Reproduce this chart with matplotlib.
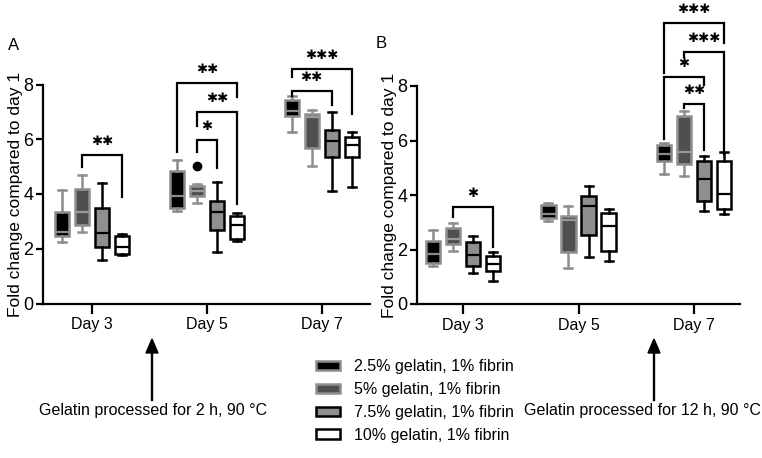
import matplotlib.pyplot as plt
from matplotlib.patches import Patch

plt.rcParams['font.family'] = ['Liberation Sans', 'DejaVu Sans']

days = ['Day 3', 'Day 5', 'Day 7']
groups = ['2.5% gelatin, 1% fibrin', '5% gelatin, 1% fibrin',
          '7.5% gelatin, 1% fibrin', '10% gelatin, 1% fibrin']

# box summaries per day: [min, q1, median, q3, max]
# panel A - gelatin processed 2 h
a_25 = [[2.25, 2.45, 2.6, 3.35, 4.15], [3.39, 3.49, 3.92, 4.83, 5.24], [6.25, 6.84, 7.05, 7.45, 7.57]]
a_5 = [[2.62, 2.88, 3.35, 4.2, 4.7], [3.67, 3.94, 4.12, 4.31, 4.37], [5.04, 5.68, 6.8, 6.92, 7.08]]
a_75 = [[1.6, 2.05, 2.58, 3.5, 4.42], [1.87, 2.69, 3.33, 3.76, 4.45], [4.12, 5.36, 5.95, 6.34, 7.0]]
a_10 = [[1.78, 1.82, 2.08, 2.45, 2.55], [2.3, 2.36, 2.88, 3.21, 3.3], [4.25, 5.34, 5.79, 6.09, 6.25]]
a_fliers = {(1, 1): [5.04]}  # (day, group) -> outliers

# panel B - gelatin processed 12 h
b_25 = [[1.38, 1.5, 1.82, 2.3, 2.7], [3.05, 3.16, 3.3, 3.63, 3.72], [4.76, 5.24, 5.5, 5.85, 5.92]]
b_5 = [[1.95, 2.2, 2.4, 2.78, 2.97], [1.33, 1.89, 3.1, 3.24, 3.6], [4.7, 5.13, 5.58, 6.89, 7.08]]
b_75 = [[1.13, 1.38, 1.8, 2.27, 2.5], [1.71, 2.53, 3.59, 3.96, 4.32], [3.42, 3.77, 4.57, 5.24, 5.42]]
b_10 = [[0.86, 1.2, 1.45, 1.75, 1.9], [1.59, 1.95, 2.87, 3.35, 3.5], [3.32, 3.47, 4.05, 5.26, 5.56]]
b_fliers = {}

# significance brackets: (day, group i, group j, bar height, left end, right end, n stars)
a_sig = [(0, 1, 3, 5.43, 4.98, 3.88, 2),
         (1, 0, 3, 8.04, 5.52, 7.53, 2),
         (1, 1, 3, 7.0, 6.5, 3.64, 2),
         (1, 1, 2, 5.98, 5.52, 4.95, 1),
         (2, 0, 3, 8.56, 8.28, 6.92, 3),
         (2, 0, 2, 7.75, 7.59, 7.26, 2)]
b_sig = [(0, 1, 3, 3.55, 3.2, 2.1, 1),
         (2, 0, 3, 10.32, 8.47, 9.58, 3),
         (2, 1, 3, 9.24, 9.07, 5.52, 3),
         (2, 0, 2, 8.33, 6.07, 8.02, 1),
         (2, 1, 2, 7.35, 7.2, 5.64, 2)]

faces = ['black', '#4f4f4f', '#8f8f8f', 'white']
edges = ['#8a8a8a', '#8f8f8f', 'black', 'black']
meds = ['#8a8a8a', '#9a9a9a', 'black', 'black']

step = 0.174
width = 0.125


def pos(day, g):
    return day + (g - 1.5) * step


def draw_panel(ax, series, fliers, sig, xlim):
    for g, data in enumerate(series):
        stats = []
        for d, s in enumerate(data):
            stats.append(dict(whislo=s[0], q1=s[1], med=s[2], q3=s[3], whishi=s[4],
                              fliers=fliers.get((d, g), [])))
        ax.bxp(stats, positions=[pos(d, g) for d in range(3)], widths=width,
               capwidths=width * 0.55, patch_artist=True, showfliers=True,
               boxprops=dict(facecolor=faces[g], edgecolor=edges[g], linewidth=1.8),
               whiskerprops=dict(color=edges[g], linewidth=1.8),
               capprops=dict(color=edges[g], linewidth=1.8),
               medianprops=dict(color=meds[g], linewidth=1.6),
               flierprops=dict(marker='o', markerfacecolor='black', markeredgecolor='black',
                               markersize=6),
               manage_ticks=False)
    for d, i, j, top, yl, yr, n in sig:
        x1, x2 = pos(d, i), pos(d, j)
        ax.plot([x1, x1, x2, x2], [yl, top, top, yr], color='black', lw=1.6,
                clip_on=False, solid_joinstyle='miter')
        ax.text((x1 + x2) / 2, top + 0.5, '\u2731' * n, ha='center', va='center',
                fontsize=9.5, family='DejaVu Sans', clip_on=False)
    ax.set_xlim(*xlim)
    ax.set_ylim(0, 8)
    ax.set_yticks([0, 2, 4, 6, 8])
    ax.set_xticks(range(3))
    ax.set_xticklabels(days, fontsize=11.5)
    ax.tick_params(axis='y', labelsize=13, width=1.6, length=5, pad=2)
    ax.tick_params(axis='x', width=1.6, length=7, pad=3)
    ax.set_ylabel('Fold change compared to day 1', fontsize=12.5, labelpad=0)
    for side in ['top', 'right']:
        ax.spines[side].set_visible(False)
    for side in ['left', 'bottom']:
        ax.spines[side].set_linewidth(1.6)


fig = plt.figure(figsize=(7.62, 4.58), dpi=100)
W, H = 762, 458
ax_a = fig.add_axes([43 / W, (H - 303.5) / H, 327 / W, 219 / H])
ax_b = fig.add_axes([417 / W, (H - 304) / H, 323 / W, 218 / H])

draw_panel(ax_a, [a_25, a_5, a_75, a_10], a_fliers, a_sig, (-0.426, 2.42))
draw_panel(ax_b, [b_25, b_5, b_75, b_10], b_fliers, b_sig, (-0.40, 2.40))

fig.text(8 / W, 1 - 45 / H, 'A', fontsize=12, va='center', ha='left')
fig.text(376 / W, 1 - 43 / H, 'B', fontsize=12, va='center', ha='left')

# arrows pointing up at the x axes
for x in [152, 654]:
    fig.add_artist(plt.Line2D([x / W, x / W], [1 - 400 / H, 1 - 352 / H], color='black', lw=1.7))
    fig.patches.append(plt.Polygon([[(x - 6) / W, 1 - 353 / H], [(x + 6) / W, 1 - 353 / H],
                                    [x / W, 1 - 339 / H]], closed=True, color='black',
                                   transform=fig.transFigure, figure=fig))
fig.text(153 / W, 1 - 410 / H, 'Gelatin processed for 2 h, 90 °C', fontsize=11.5,
         ha='center', va='center')
fig.text(642 / W, 1 - 410 / H, 'Gelatin processed for 12 h, 90 °C', fontsize=11.5,
         ha='center', va='center')

handles = [Patch(facecolor=faces[g], edgecolor=edges[g], linewidth=1.8) for g in range(4)]
fig.legend(handles, groups, loc='upper left', bbox_to_anchor=(316 / W, 1 - 359 / H),
           frameon=False, fontsize=11.5, handlelength=1.5, handleheight=0.55,
           handletextpad=0.9, labelspacing=0.5, borderpad=0, borderaxespad=0)

fig.savefig('out.png', dpi=100)
